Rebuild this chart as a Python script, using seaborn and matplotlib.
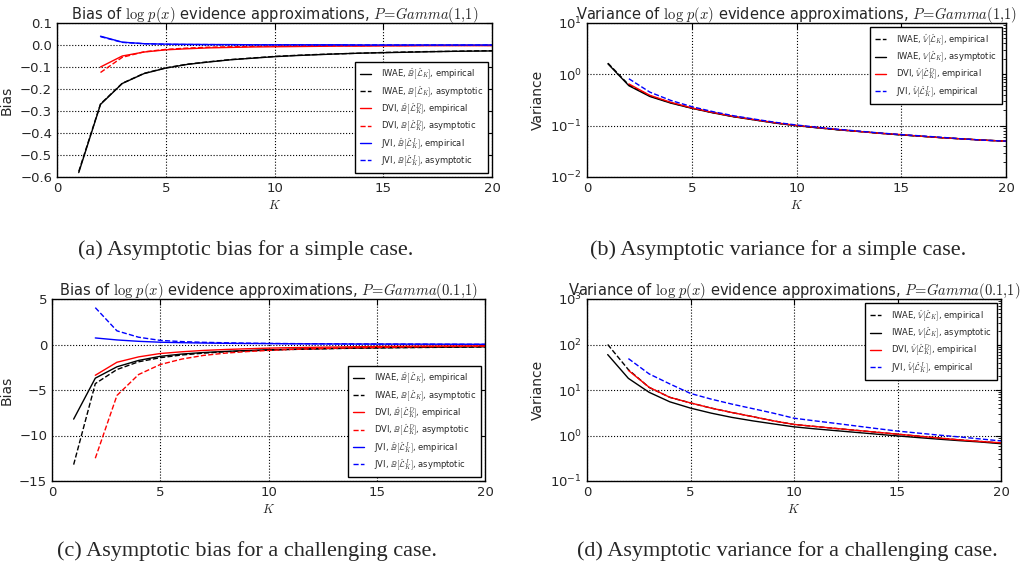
import numpy as np
import matplotlib
matplotlib.use("Agg")
import matplotlib.pyplot as plt
import seaborn as sns

# ---- data ----
K_all = list(range(1, 21))
K_from2 = list(range(2, 21))

# (a) bias, P = Gamma(1,1)
a_iwae_emp = [-0.58, -0.27, -0.175, -0.13, -0.105, -0.088, -0.077, -0.067, -0.060, -0.053,
              -0.048, -0.044, -0.040, -0.037, -0.035, -0.033, -0.031, -0.029, -0.028, -0.027]
a_iwae_asym = [-0.575, -0.268, -0.174, -0.129, -0.104, -0.087, -0.076, -0.066, -0.059, -0.052,
               -0.047, -0.043, -0.040, -0.037, -0.034, -0.032, -0.030, -0.029, -0.027, -0.026]
a_dvi_emp = [-0.10, -0.050, -0.032, -0.022, -0.017, -0.013, -0.011, -0.009, -0.008,
             -0.007, -0.006, -0.005, -0.005, -0.004, -0.004, -0.003, -0.003, -0.003, -0.003]
a_dvi_asym = [-0.125, -0.056, -0.031, -0.020, -0.014, -0.010, -0.008, -0.006, -0.005,
              -0.004, -0.0035, -0.003, -0.0026, -0.0022, -0.002, -0.0017, -0.0015, -0.0014, -0.0013]
a_jvi_emp = [0.040, 0.013, 0.006, 0.004, 0.003, 0.002, 0.002, 0.001, 0.001,
             0.001, 0.001, 0.001, 0.0, 0.0, 0.0, 0.0, 0.0, 0.0, 0.0]
a_jvi_asym = [0.038, 0.012, 0.006, 0.003, 0.002, 0.002, 0.001, 0.001, 0.001,
              0.001, 0.0, 0.0, 0.0, 0.0, 0.0, 0.0, 0.0, 0.0, 0.0]

# (b) variance, P = Gamma(1,1)
b_iwae_emp = [1.65, 0.62, 0.38, 0.28, 0.22, 0.18, 0.15, 0.13, 0.113, 0.100,
              0.091, 0.083, 0.077, 0.071, 0.066, 0.062, 0.058, 0.055, 0.052, 0.050]
b_iwae_asym = [1.60, 0.60, 0.37, 0.275, 0.218, 0.178, 0.149, 0.129, 0.112, 0.100,
               0.091, 0.083, 0.077, 0.071, 0.066, 0.062, 0.058, 0.055, 0.052, 0.050]
b_dvi_emp = [0.65, 0.39, 0.285, 0.222, 0.181, 0.151, 0.131, 0.114, 0.101,
             0.092, 0.084, 0.077, 0.071, 0.067, 0.062, 0.058, 0.055, 0.052, 0.050]
b_jvi_emp = [0.82, 0.45, 0.31, 0.235, 0.188, 0.156, 0.134, 0.116, 0.103,
             0.093, 0.085, 0.078, 0.072, 0.067, 0.063, 0.059, 0.055, 0.052, 0.050]

# (c) bias, P = Gamma(0.1,1)
c_iwae_emp = [-8.2, -3.7, -2.45, -1.75, -1.30, -1.05, -0.88, -0.76, -0.66, -0.58,
              -0.52, -0.47, -0.43, -0.39, -0.36, -0.33, -0.31, -0.29, -0.27, -0.25]
c_iwae_asym = [-13.2, -4.3, -2.75, -1.90, -1.45, -1.15, -0.95, -0.80, -0.70, -0.62,
               -0.55, -0.50, -0.45, -0.41, -0.38, -0.35, -0.33, -0.31, -0.29, -0.27]
c_dvi_emp = [-3.38, -1.95, -1.36, -0.99, -0.80, -0.65, -0.55, -0.47, -0.40,
             -0.35, -0.31, -0.28, -0.25, -0.22, -0.20, -0.18, -0.17, -0.16, -0.15]
c_dvi_asym = [-12.5, -5.6, -3.3, -2.2, -1.6, -1.2, -0.95, -0.78, -0.65,
              -0.55, -0.47, -0.41, -0.36, -0.32, -0.28, -0.25, -0.22, -0.20, -0.18]
c_jvi_emp = [0.72, 0.50, 0.35, 0.25, 0.20, 0.16, 0.13, 0.11, 0.10,
             0.08, 0.07, 0.06, 0.05, 0.045, 0.04, 0.035, 0.03, 0.025, 0.02]
c_jvi_asym = [4.05, 1.50, 0.80, 0.45, 0.32, 0.24, 0.19, 0.15, 0.12,
              0.10, 0.085, 0.07, 0.06, 0.05, 0.045, 0.04, 0.03, 0.025, 0.02]

# (d) variance, P = Gamma(0.1,1)
d_iwae_emp = [100.0, 28.0, 11.4, 6.9, 5.2, 4.0, 3.2, 2.6, 2.1, 1.75,
              1.58, 1.43, 1.30, 1.18, 1.07, 0.97, 0.88, 0.80, 0.74, 0.68]
d_iwae_asym = [60.0, 18.0, 8.9, 5.5, 4.0, 3.1, 2.5, 2.1, 1.8, 1.55,
               1.40, 1.28, 1.17, 1.07, 0.98, 0.90, 0.83, 0.77, 0.72, 0.66]
d_dvi_emp = [27.0, 11.5, 6.9, 5.2, 4.0, 3.2, 2.6, 2.1, 1.75,
             1.58, 1.43, 1.30, 1.18, 1.07, 0.97, 0.88, 0.80, 0.74, 0.69]
d_jvi_emp = [49.0, 22.6, 13.6, 8.4, 6.3, 4.9, 3.9, 3.1, 2.4,
             2.1, 1.85, 1.62, 1.42, 1.25, 1.13, 1.02, 0.93, 0.84, 0.76]

B_emp = r"\hat{\mathbb{B}}"
B_asy = r"\mathbb{B}"
V_emp = r"\hat{\mathbb{V}}"
V_asy = r"\mathbb{V}"
L_iw = r"[\hat{\mathcal{L}}_K]"
L_d = r"[\hat{\mathcal{L}}_K^D]"
L_j = r"[\hat{\mathcal{L}}_K^J]"

sns.set_style("whitegrid", {"grid.linestyle": ":", "grid.color": "black",
                            "axes.edgecolor": "black", "xtick.direction": "in",
                            "ytick.direction": "in"})
plt.rcParams["font.family"] = ["DejaVu Sans"]
plt.rcParams["mathtext.fontset"] = "cm"
plt.rcParams["axes.unicode_minus"] = True

W, H = 1025, 569
fig = plt.figure(figsize=(W / 100, H / 100), dpi=100)


def make_ax(l, r, t, b):
    return fig.add_axes([l / W, (H - b) / H, (r - l) / W, (b - t) / H])


ax_a = make_ax(57, 492, 23, 177)
ax_b = make_ax(587, 1006, 23, 177)
ax_c = make_ax(52, 485, 299, 481)
ax_d = make_ax(587, 1001, 299, 481)


def draw(ax, series):
    for k, y, col, ls, lab in series:
        sns.lineplot(x=k, y=y, ax=ax, color=col, linestyle=ls, lw=1.0,
                     label=lab, legend=False)


draw(ax_a, [
    (K_all, a_iwae_emp, "black", "-", rf"IWAE, ${B_emp}{L_iw}$, empirical"),
    (K_all, a_iwae_asym, "black", "--", rf"IWAE, ${B_asy}{L_iw}$, asymptotic"),
    (K_from2, a_dvi_emp, "red", "-", rf"DVI, ${B_emp}{L_d}$, empirical"),
    (K_from2, a_dvi_asym, "red", "--", rf"DVI, ${B_asy}{L_d}$, asymptotic"),
    (K_from2, a_jvi_emp, "blue", "-", rf"JVI, ${B_emp}{L_j}$, empirical"),
    (K_from2, a_jvi_asym, "blue", "--", rf"JVI, ${B_asy}{L_j}$, asymptotic"),
])
draw(ax_b, [
    (K_all, b_iwae_emp, "black", "--", rf"IWAE, ${V_emp}{L_iw}$, empirical"),
    (K_all, b_iwae_asym, "black", "-", rf"IWAE, ${V_asy}{L_iw}$, asymptotic"),
    (K_from2, b_dvi_emp, "red", "-", rf"DVI, ${V_emp}{L_d}$, empirical"),
    (K_from2, b_jvi_emp, "blue", "--", rf"JVI, ${V_emp}{L_j}$, empirical"),
])
draw(ax_c, [
    (K_all, c_iwae_emp, "black", "-", rf"IWAE, ${B_emp}{L_iw}$, empirical"),
    (K_all, c_iwae_asym, "black", "--", rf"IWAE, ${B_asy}{L_iw}$, asymptotic"),
    (K_from2, c_dvi_emp, "red", "-", rf"DVI, ${B_emp}{L_d}$, empirical"),
    (K_from2, c_dvi_asym, "red", "--", rf"DVI, ${B_asy}{L_d}$, asymptotic"),
    (K_from2, c_jvi_emp, "blue", "-", rf"JVI, ${B_emp}{L_j}$, empirical"),
    (K_from2, c_jvi_asym, "blue", "--", rf"JVI, ${B_asy}{L_j}$, asymptotic"),
])
draw(ax_d, [
    (K_all, d_iwae_emp, "black", "--", rf"IWAE, ${V_emp}{L_iw}$, empirical"),
    (K_all, d_iwae_asym, "black", "-", rf"IWAE, ${V_asy}{L_iw}$, asymptotic"),
    (K_from2, d_dvi_emp, "red", "-", rf"DVI, ${V_emp}{L_d}$, empirical"),
    (K_from2, d_jvi_emp, "blue", "--", rf"JVI, ${V_emp}{L_j}$, empirical"),
])

titles = [
    (ax_a, "Bias", r"$P\!=\!Gamma(1{,}1)$", (-0.6, 0.1), False),
    (ax_b, "Variance", r"$P\!=\!Gamma(1{,}1)$", (1e-2, 1e1), True),
    (ax_c, "Bias", r"$P\!=\!Gamma(0.1{,}1)$", (-15, 5), False),
    (ax_d, "Variance", r"$P\!=\!Gamma(0.1{,}1)$", (1e-1, 1e3), True),
]
for ax, what, pstr, ylim, logy in titles:
    if logy:
        ax.set_yscale("log")
    ax.set_xlim(0, 20)
    ax.set_ylim(*ylim)
    ax.set_xticks([0, 5, 10, 15, 20])
    ax.set_title(rf"{what} of $\log\,p(x)$ evidence approximations, " + pstr,
                 fontsize=10.5, pad=3)
    ax.set_xlabel(r"$K$", fontsize=9)
    ax.set_ylabel(what, fontsize=10)
    ax.tick_params(which="both", direction="in", top=True, right=True,
                   labelsize=9.5, color="black")
    ax.tick_params(which="major", length=4)
    ax.tick_params(which="minor", length=2)
    ax.grid(True, which="major", linestyle=":", color="black", lw=0.8)
    ax.grid(False, which="minor")
    for s in ax.spines.values():
        s.set_color("black")
        s.set_linewidth(1.0)

ax_a.set_yticks(np.arange(-0.6, 0.11, 0.1))
ax_c.set_yticks([-15, -10, -5, 0, 5])

ax_a.yaxis.set_label_coords(-0.100, 0.5)
ax_b.yaxis.set_label_coords(-0.100, 0.5)
ax_c.yaxis.set_label_coords(-0.088, 0.5)
ax_d.yaxis.set_label_coords(-0.102, 0.5)
ax_a.xaxis.set_label_coords(0.5, -0.145)
ax_b.xaxis.set_label_coords(0.5, -0.145)
ax_c.xaxis.set_label_coords(0.5, -0.12)
ax_d.xaxis.set_label_coords(0.5, -0.12)

leg_kw = dict(fontsize=6, frameon=True, fancybox=False, edgecolor="black",
              framealpha=1, handlelength=1.3, handletextpad=1.2,
              borderpad=0.6, labelspacing=0.3)
ax_a.legend(loc="lower right", **leg_kw)
ax_b.legend(loc="upper right", **leg_kw)
ax_c.legend(loc="lower right", **leg_kw)
ax_d.legend(loc="upper right", **leg_kw)
for ax in (ax_a, ax_b, ax_c, ax_d):
    ax.get_legend().get_frame().set_linewidth(1.0)

caption_kw = dict(ha="center", va="center", fontsize=16, family="Liberation Serif")
fig.text(246 / W, 1 - 250 / H, "(a) Asymptotic bias for a simple case.", **caption_kw)
fig.text(778 / W, 1 - 250 / H, "(b) Asymptotic variance for a simple case.", **caption_kw)
fig.text(247 / W, 1 - 551 / H, "(c) Asymptotic bias for a challenging case.", **caption_kw)
fig.text(787 / W, 1 - 551 / H, "(d) Asymptotic variance for a challenging case.", **caption_kw)

fig.savefig("out.png", dpi=100)
